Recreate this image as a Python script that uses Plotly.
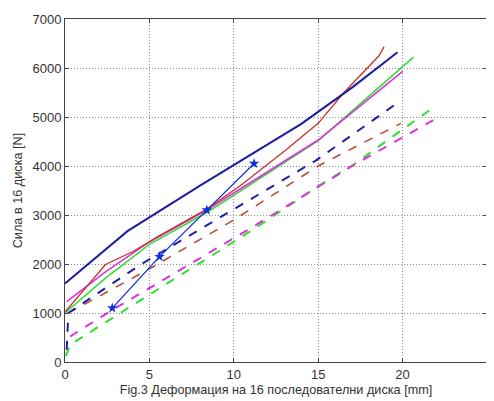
import plotly.graph_objects as go

# Solid blue
blue_x = [0, 3.7, 8.0, 11.0, 14.0, 17.0, 19.7]
blue_y = [1600, 2670, 3600, 4230, 4860, 5600, 6320]
# Blue with markers
bluem_x = [2.8, 5.6, 8.4, 11.2]
bluem_y = [1100, 2150, 3100, 4050]
# Red solid
red_x = [0, 2.4, 4.0, 5.5, 8.4, 10.4, 13.1, 14.0, 15.0, 16.5, 18.6, 18.9]
red_y = [1020, 1990, 2250, 2560, 3120, 3600, 4330, 4580, 4870, 5490, 6250, 6430]
# Magenta solid
mag_x = [0.1, 2.4, 5.0, 8.4, 10.0, 15.0, 20.0]
mag_y = [1230, 1840, 2450, 3100, 3450, 4530, 5930]
# Green solid
grn_x = [0, 2.4, 5.0, 8.4, 10.0, 15.0, 20.65]
grn_y = [1000, 1710, 2400, 3050, 3400, 4520, 6220]
# Blue dashed
bd_x = [0.1, 0.2, 4.44, 10.0, 14.9, 19.5]
bd_y = [250, 1000, 1980, 3120, 4120, 5240]
# Red dashed
rd_x = [0.2, 5.0, 10.0, 15.0, 19.9]
rd_y = [1000, 1900, 2900, 4000, 4870]
# Magenta dashed
md_x = [0.3, 2.8, 11.0, 15.1, 17.0, 22.3]
md_y = [520, 1060, 2730, 3610, 4000, 5030]
# Green dashed
gd_x = [0.05, 0.3, 5.0, 10.95, 15.1, 17.06, 21.6]
gd_y = [120, 350, 1375, 2660, 3610, 4020, 5140]

x_ticks = [0, 5, 10, 15, 20, 25]
y_ticks = [0, 1000, 2000, 3000, 4000, 5000, 6000, 7000]

fig = go.Figure()

def add(x, y, color, width, dash="solid"):
    fig.add_trace(go.Scatter(x=x, y=y, mode="lines",
                             line=dict(color=color, width=width, dash=dash),
                             showlegend=False, hoverinfo="skip"))

add(gd_x, gd_y, "#33dd33", 2, "dash")
add(md_x, md_y, "#dd33dd", 2, "dash")
add(rd_x, rd_y, "#b8452f", 1.5, "dash")
add(bd_x, bd_y, "#2020a8", 2, "dash")
add(grn_x, grn_y, "#33dd33", 1.6)
add(mag_x, mag_y, "#dd33dd", 1.6)
add(red_x, red_y, "#c8302a", 1.3)
add(blue_x, blue_y, "#1c1ca0", 2)
fig.add_trace(go.Scatter(x=bluem_x, y=bluem_y, mode="lines+markers",
                         line=dict(color="#1030e0", width=1.3),
                         marker=dict(symbol="star", size=8, color="#1030e0"),
                         showlegend=False, hoverinfo="skip"))

FONT = "Liberation Sans, Arial"
axis_common = dict(
    showline=True, linecolor="#444444", linewidth=1, mirror="ticks",
    ticks="inside", ticklen=4, tickcolor="#444444",
    showgrid=True, gridcolor="#8a8a8a", griddash="1px,2px", gridwidth=1,
    zeroline=False, automargin=False,
    tickfont=dict(family=FONT, size=13, color="#333333"),
)

# page body adds an 8px offset; the figure is sized to fit the 494x401 window
fig.update_layout(
    width=486, height=393,
    margin=dict(l=57, r=7, t=11, b=39),
    paper_bgcolor="white", plot_bgcolor="white",
    xaxis=dict(range=[0, 25], tickvals=x_ticks, **axis_common,
               title=dict(text="Fig.3 Деформация на 16 последователни диска [mm]",
                          font=dict(family=FONT, size=12.7, color="#333333"),
                          standoff=4)),
    yaxis=dict(range=[0, 7000], tickvals=y_ticks, **axis_common,
               title=dict(text="Сила в 16 диска [N]",
                          font=dict(family=FONT, size=12.7, color="#333333"),
                          standoff=7)),
)

fig.write_html("out.html")
